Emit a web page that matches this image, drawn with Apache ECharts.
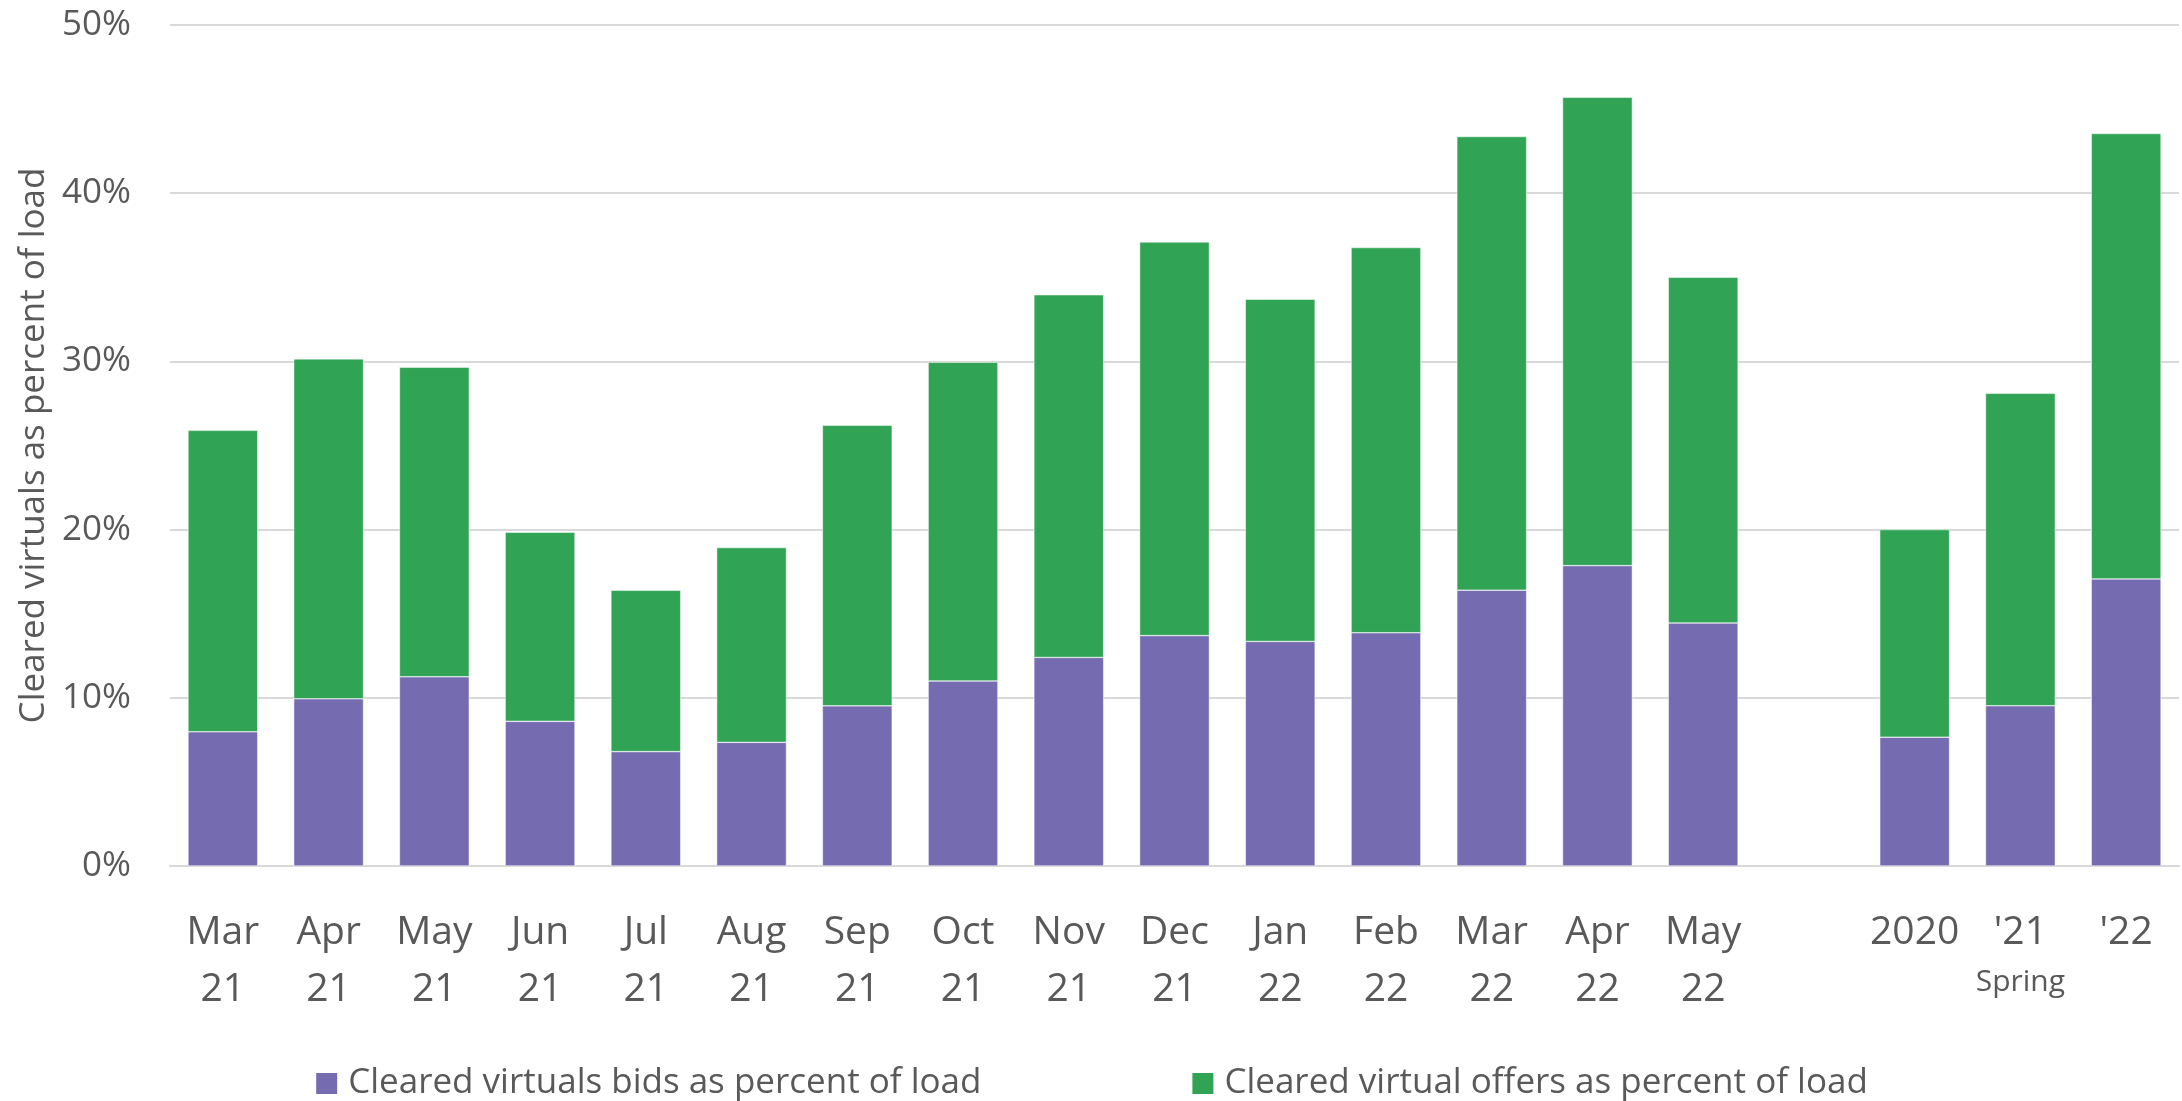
<!DOCTYPE html>
<html>
<head>
<meta charset="utf-8">
<script src="https://cdn.jsdelivr.net/npm/echarts@6/dist/echarts.min.js"></script>
<style>
  html, body { margin: 0; padding: 0; background: #fff; }
  #chart { width: 2182px; height: 1101px; }
</style>
</head>
<body>
<div id="chart"></div>
<script>
// Категории: месяцы, пустой промежуток, затем весна по годам
const categories = [
    "Mar\n21", "Apr\n21", "May\n21", "Jun\n21", "Jul\n21", "Aug\n21", "Sep\n21",
    "Oct\n21", "Nov\n21", "Dec\n21", "Jan\n22", "Feb\n22", "Mar\n22", "Apr\n22",
    "May\n22", "", "2020", "'21\nSpring", "'22"
];

// Доля виртуальных bids (% от нагрузки)
const bids = [
    7.98, 9.94, 11.25, 8.6, 6.8, 7.35, 9.52, 11.0, 12.4, 13.7, 13.35, 13.87,
    16.4, 17.86, 14.45, null, 7.66, 9.53, 17.07
];

// Доля виртуальных offers (% от нагрузки)
const offers = [
    17.92, 20.21, 18.4, 11.24, 9.59, 11.58, 16.68, 18.95, 21.56, 23.4, 20.35, 22.9,
    26.97, 27.84, 20.55, null, 12.34, 18.57, 26.48
];

const yTicks = [0, 10, 20, 30, 40, 50];

const textColor = "#595959";
const font = "Open Sans";

const chart = echarts.init(document.getElementById("chart"));

const option = {
    animation: false,
    textStyle: { fontFamily: font },
    grid: { left: 170, right: 3, top: 25, bottom: 235 },
    legend: {
        top: 1061,
        left: "center",
        itemWidth: 23,
        itemHeight: 23,
        itemGap: 209,
        icon: "rect",
        textStyle: { fontSize: 35, color: textColor, padding: [0, 0, 0, 5] },
        data: [
            "Cleared virtuals bids as percent of load",
            "Cleared virtual offers as percent of load"
        ]
    },
    xAxis: {
        type: "category",
        data: categories,
        axisLine: { lineStyle: { color: "#d9d9d9", width: 2 } },
        axisTick: { show: false },
        axisLabel: {
            interval: 0,
            margin: 38,
            color: textColor,
            formatter: (v) => v.split("\n").map((t) => t === "Spring" ? "{s|" + t + "}" : "{a|" + t + "}").join("\n"),
            rich: {
                a: { fontSize: 39, lineHeight: 57, color: textColor, fontFamily: font },
                s: { fontSize: 30, lineHeight: 42, color: textColor, fontFamily: font }
            }
        }
    },
    yAxis: {
        type: "value",
        min: yTicks[0],
        max: yTicks[yTicks.length - 1],
        interval: 10,
        name: "Cleared virtuals as percent of load",
        nameLocation: "middle",
        nameGap: 115,
        nameTextStyle: { fontSize: 35, color: textColor },
        axisLine: { show: false },
        axisTick: { show: false },
        axisLabel: { fontSize: 35, color: textColor, margin: 39, formatter: "{value}%" },
        splitLine: { lineStyle: { color: "#d9d9d9", width: 2 } }
    },
    series: [
        {
            name: "Cleared virtuals bids as percent of load",
            type: "bar",
            stack: "total",
            barCategoryGap: "34%",
            data: bids,
            itemStyle: { color: "#756bb1", borderColor: "#ffffff", borderWidth: 0.5 }
        },
        {
            name: "Cleared virtual offers as percent of load",
            type: "bar",
            stack: "total",
            barCategoryGap: "34%",
            data: offers,
            itemStyle: { color: "#31a354", borderColor: "#ffffff", borderWidth: 0.5 }
        }
    ]
};

chart.setOption(option);
</script>
</body>
</html>
